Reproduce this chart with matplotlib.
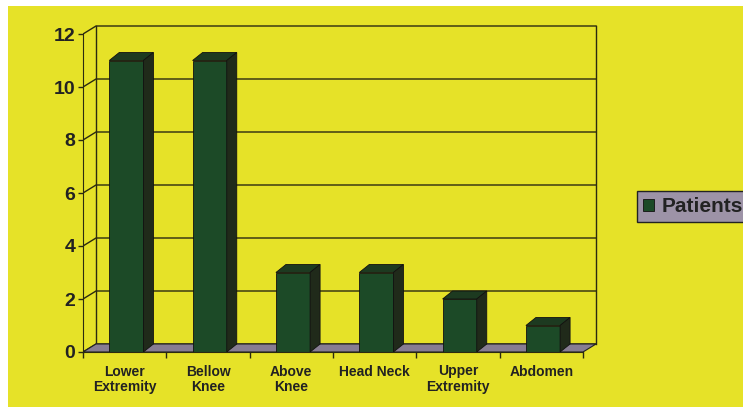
import matplotlib
matplotlib.use("Agg")
import matplotlib.pyplot as plt
from matplotlib.patches import Polygon, Rectangle, Patch

# dados
categorias = ["Lower\nExtremity", "Bellow\nKnee", "Above\nKnee", "Head Neck", "Upper\nExtremity", "Abdomen"]
pacientes = [11, 11, 3, 3, 2, 1]
yticks = [0, 2, 4, 6, 8, 10, 12]

plt.rcParams['font.family'] = ['Liberation Sans', 'DejaVu Sans']
plt.rcParams['font.weight'] = 'bold'

amarelo = "#e6e228"
cor_texto = "#222222"
cor_linha = "#2b2a10"
frente = "#1c4a27"
lado = "#202a1a"
topo = "#1d3a20"
chao = "#877d92"

W, H = 743, 407
fig = plt.figure(figsize=(W / 100, H / 100), dpi=100)
fig.patch.set_facecolor("white")
# fundo amarelo (com faixa branca em cima e a esquerda)
fig.patches.append(Rectangle((8 / W, 0), 1, (H - 6) / H, transform=fig.transFigure,
                             facecolor=amarelo, edgecolor="none", zorder=-10))

px_x = 500 / 6     # pixels por categoria
px_y = 26.5        # pixels por unidade
xmax, ymax = 6.2, 12.5
ax = fig.add_axes([83 / W, 55 / H, xmax * px_x / W, ymax * px_y / H])
ax.set_xlim(0, xmax)
ax.set_ylim(0, ymax)
ax.patch.set_visible(False)

# deslocamento de profundidade (parede e barras)
dxw, dyw = 13 / px_x, 8 / px_y
dxb, dyb = 10 / px_x, 8 / px_y
n = len(categorias)

# linhas de grade na parede lateral e de fundo
for y in yticks:
    ax.plot([0, dxw, n + dxw], [y, y + dyw, y + dyw], color=cor_linha, lw=1, zorder=1)
ax.plot([dxw, dxw], [dyw, yticks[-1] + dyw], color=cor_linha, lw=1, zorder=1)
ax.plot([n + dxw, n + dxw], [dyw, yticks[-1] + dyw], color=cor_linha, lw=1, zorder=1)

# chao
ax.add_patch(Polygon([(0, 0), (n, 0), (n + dxw, dyw), (dxw, dyw)], closed=True,
                     facecolor=chao, edgecolor="#222222", lw=0.8, zorder=2))

# barras 3d
larg = 0.41
xs = [i + 0.52 for i in range(n)]
barras = ax.bar(xs, pacientes, width=larg, color=frente, edgecolor="#111111", lw=0.6, zorder=4)
for b in barras:
    x0 = b.get_x()
    x1 = x0 + b.get_width()
    h = b.get_height()
    ax.add_patch(Polygon([(x0, h), (x1, h), (x1 + dxb, h + dyb), (x0 + dxb, h + dyb)],
                         closed=True, facecolor=topo, edgecolor="#111111", lw=0.6, zorder=4))
    ax.add_patch(Polygon([(x1, 0), (x1 + dxb, dyb), (x1 + dxb, h + dyb), (x1, h)],
                         closed=True, facecolor=lado, edgecolor="#111111", lw=0.6, zorder=4))

# eixos
for s in ["top", "right"]:
    ax.spines[s].set_visible(False)
ax.spines["left"].set_bounds(0, yticks[-1])
ax.spines["bottom"].set_bounds(0, n)
ax.spines["left"].set_color(cor_linha)
ax.spines["bottom"].set_color(cor_linha)
ax.spines["left"].set_zorder(5)
ax.spines["bottom"].set_zorder(5)

ax.set_yticks(yticks)
ax.set_yticklabels([str(v) for v in yticks], fontsize=14, fontweight="bold", color=cor_texto)
ax.tick_params(axis="y", direction="out", length=3.5, width=1, pad=2, color=cor_linha)

ax.set_xticks(range(n + 1))
ax.set_xticklabels([])
ax.tick_params(axis="x", which="major", direction="out", length=4, width=1, color=cor_linha)
ax.set_xticks([i + 0.5 for i in range(n)], minor=True)
ax.set_xticklabels(categorias, minor=True, fontsize=10, fontweight="bold", color=cor_texto,
                   linespacing=1.1)
ax.tick_params(axis="x", which="minor", length=0, pad=9)

# legenda (cortada na borda direita, como no original)
fig.legend(handles=[Patch(facecolor=frente, edgecolor="#111111", lw=0.6)], labels=["Patients"],
           loc="center left", bbox_to_anchor=(637 / W, (H - 206.5) / H),
           frameon=True, fancybox=False, facecolor="#9d93a7", edgecolor="#222222",
           framealpha=1, handlelength=0.5, handleheight=0.5, handletextpad=0.4,
           borderpad=0.3, borderaxespad=0, labelcolor=cor_texto,
           prop={"weight": "bold", "size": 15})

plt.savefig("out.png", dpi=100)
plt.close()
